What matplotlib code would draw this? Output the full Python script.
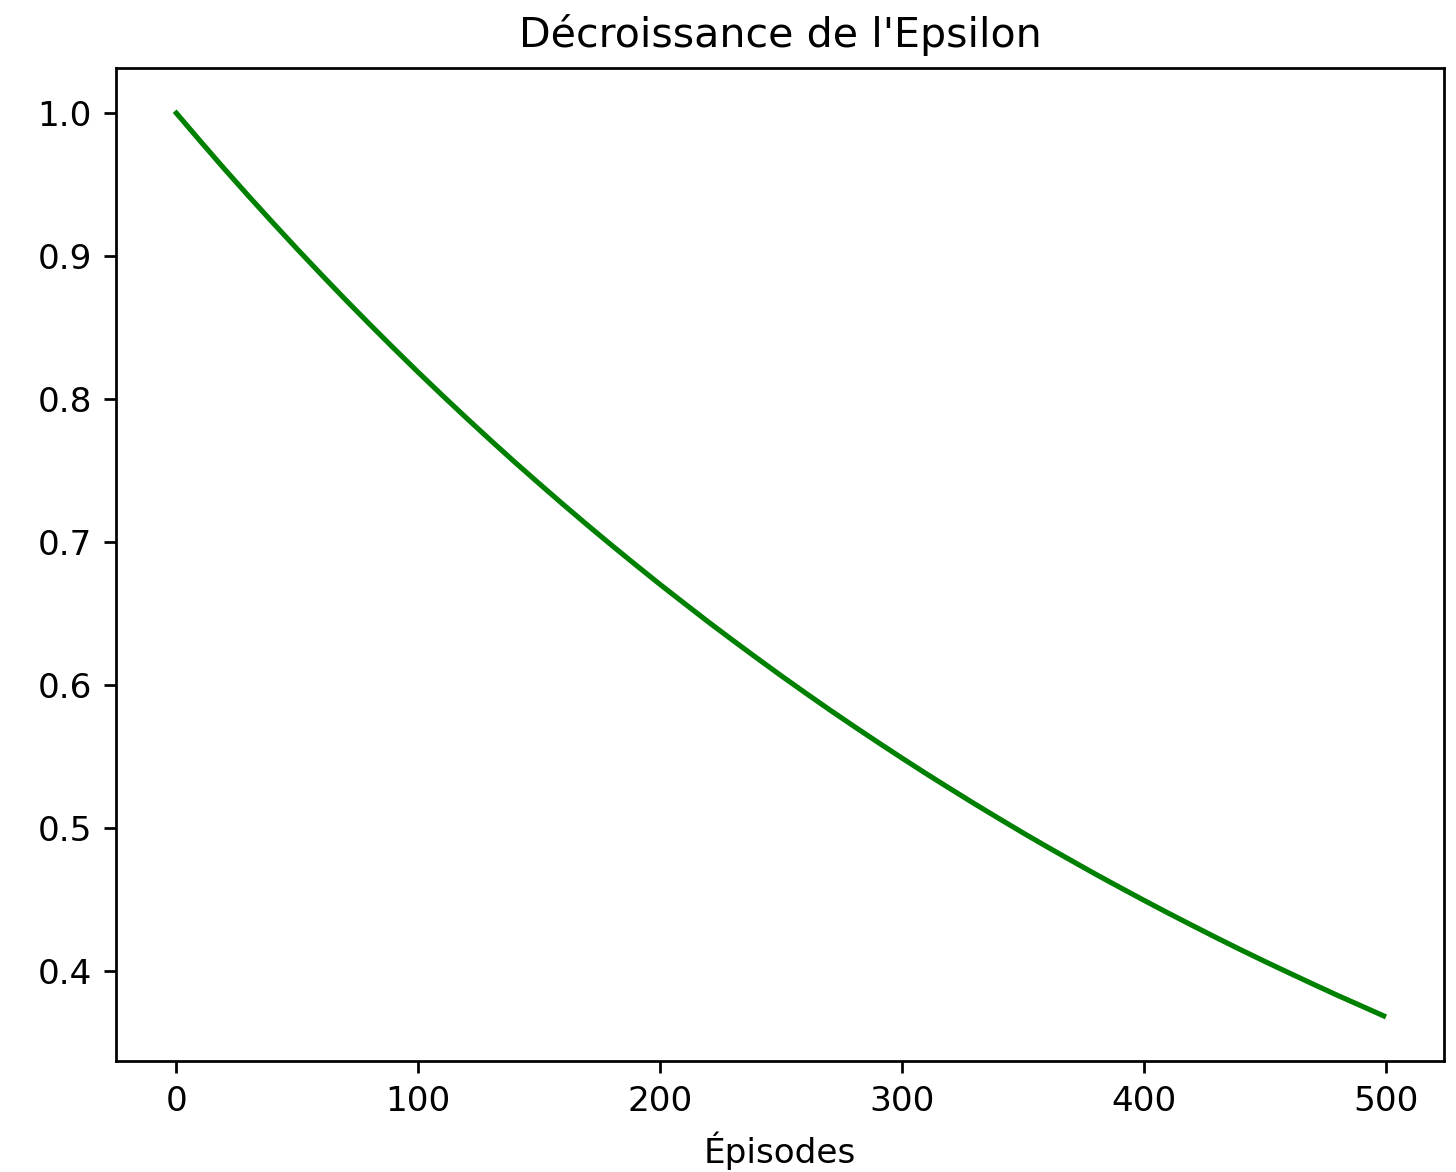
import matplotlib
matplotlib.use("Agg")
import matplotlib.pyplot as plt

episodes = [0, 10, 20, 30, 40, 50, 60, 70, 80, 90, 100, 110, 120, 130, 140,
            150, 160, 170, 180, 190, 200, 210, 220, 230, 240, 250, 260, 270,
            280, 290, 300, 310, 320, 330, 340, 350, 360, 370, 380, 390, 400,
            410, 420, 430, 440, 450, 460, 470, 480, 490, 499]
epsilon = [1.0000, 0.9802, 0.9607, 0.9417, 0.9231, 0.9048, 0.8869, 0.8693,
           0.8521, 0.8352, 0.8186, 0.8024, 0.7865, 0.7709, 0.7556, 0.7407,
           0.7260, 0.7116, 0.6975, 0.6837, 0.6701, 0.6569, 0.6438, 0.6311,
           0.6186, 0.6063, 0.5943, 0.5825, 0.5710, 0.5597, 0.5486, 0.5377,
           0.5271, 0.5166, 0.5064, 0.4963, 0.4865, 0.4769, 0.4674, 0.4582,
           0.4491, 0.4402, 0.4315, 0.4229, 0.4145, 0.4063, 0.3983, 0.3904,
           0.3826, 0.3751, 0.3683]

dpi = 247
fig = plt.figure(figsize=(1456 / dpi, 1172 / dpi), dpi=dpi)
ax = fig.add_axes([116 / 1456, 1 - 1061 / 1172, (1444 - 116) / 1456, (1061 - 68) / 1172])
ax.plot(episodes, epsilon, color="green")
ax.set_title("Décroissance de l'Epsilon")
ax.set_xlabel("Épisodes")
fig.savefig("out.png", dpi=dpi)
